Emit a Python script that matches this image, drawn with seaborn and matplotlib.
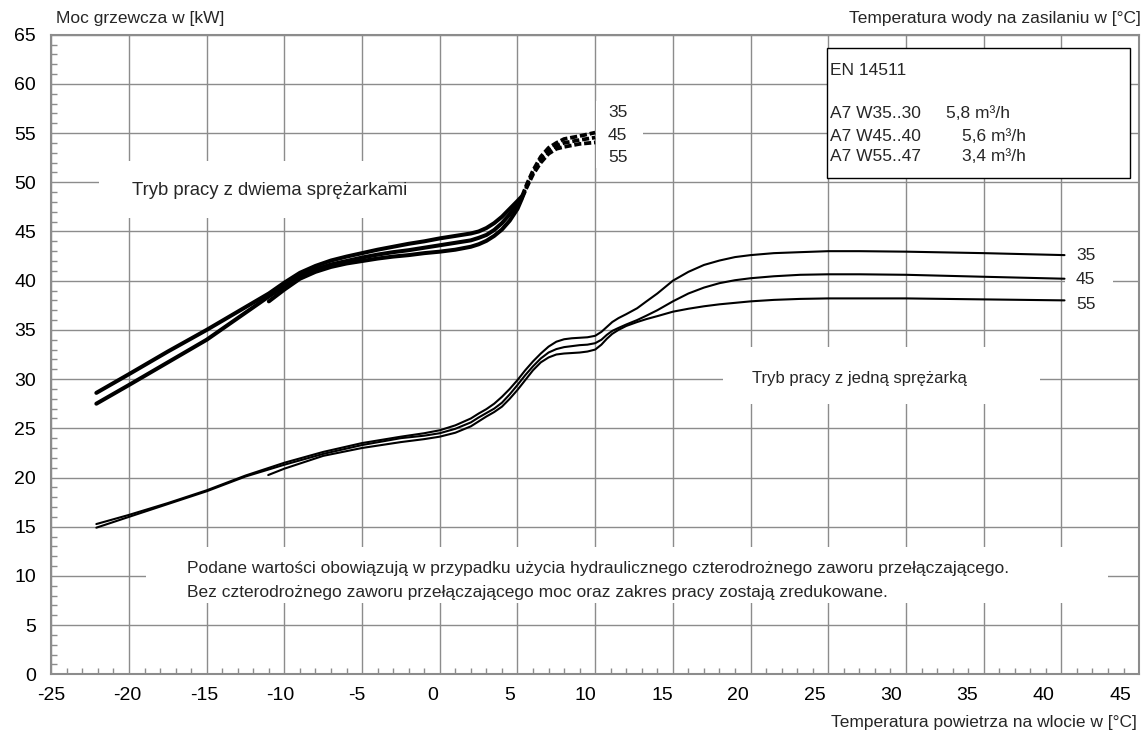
import numpy as np
import pandas as pd
import matplotlib
matplotlib.use("Agg")
import matplotlib.pyplot as plt
import matplotlib.transforms as mtrans
from matplotlib.patches import Rectangle
from matplotlib.ticker import MultipleLocator
import seaborn as sns

sns.set_theme(style="white")
plt.rcParams['font.family'] = ['Liberation Sans', 'DejaVu Sans']

# ---------------- data ----------------
supply_temps = ["35", "45", "55"]

# two compressors – solid part
two_x_35 = [-22.1, -20, -17.5, -15, -13, -11, -10, -9, -8, -7, -6, -5, -4, -3, -2, -1, 0, 1, 2, 2.5, 3, 3.5, 4, 4.5, 5, 5.3]
two_y_35 = [28.6, 30.5, 32.8, 35.0, 36.85, 38.7, 39.8, 40.8, 41.5, 42.05, 42.45, 42.8, 43.15, 43.45, 43.75, 44.0, 44.3, 44.55, 44.8, 45.0, 45.35, 45.85, 46.5, 47.3, 48.1, 48.6]
two_x_45 = [-22.1, -20, -17.5, -15, -13, -11, -10, -9, -8, -7, -6, -5, -4, -3, -2, -1, 0, 1, 2, 2.5, 3, 3.5, 4, 4.5, 5, 5.3]
two_y_45 = [27.5, 29.4, 31.7, 34.0, 36.2, 38.4, 39.45, 40.45, 41.15, 41.65, 42.0, 42.35, 42.65, 42.9, 43.1, 43.35, 43.6, 43.85, 44.1, 44.35, 44.65, 45.15, 45.85, 46.75, 47.8, 48.5]
two_x_55 = [-11, -10, -9, -8, -7, -6, -5, -4, -3, -2, -1, 0, 1, 2, 2.5, 3, 3.5, 4, 4.5, 5, 5.3]
two_y_55 = [37.9, 39.1, 40.2, 40.9, 41.4, 41.75, 42.0, 42.25, 42.45, 42.6, 42.8, 42.95, 43.15, 43.45, 43.7, 44.05, 44.55, 45.2, 46.1, 47.3, 48.4]

# two compressors – dashed part
dash_x = [5.3, 5.6, 6.0, 6.5, 7.0, 7.5, 8.0, 9.0, 10.0]
dash_y_35 = [48.6, 49.8, 51.2, 52.6, 53.5, 54.0, 54.4, 54.7, 55.05]
dash_y_45 = [48.5, 49.6, 51.0, 52.3, 53.2, 53.7, 54.0, 54.3, 54.55]
dash_y_55 = [48.4, 49.5, 50.8, 52.0, 52.9, 53.4, 53.6, 53.9, 54.05]

# one compressor
one_x_35 = [-22.1, -20, -17.5, -15, -12.5, -10, -7.5, -5, -2.5, -1, 0, 1, 2, 2.5, 3, 3.5, 4, 4.5, 5, 5.5, 6, 6.5, 7, 7.5, 8, 8.5, 9, 9.5, 10, 10.4, 10.75, 11.1, 11.5, 12, 12.7, 13.3, 14, 15, 16, 17, 18, 19, 20, 21.5, 23.2, 25, 27, 30, 35, 40.2]
one_y_35 = [15.27, 16.2, 17.4, 18.7, 20.2, 21.5, 22.6, 23.5, 24.15, 24.5, 24.8, 25.3, 26.0, 26.5, 26.95, 27.5, 28.2, 29.0, 29.9, 30.9, 31.8, 32.6, 33.3, 33.8, 34.05, 34.15, 34.2, 34.25, 34.4, 34.8, 35.3, 35.8, 36.2, 36.6, 37.2, 37.9, 38.7, 40.0, 40.9, 41.6, 42.05, 42.4, 42.6, 42.8, 42.9, 43.0, 43.0, 42.95, 42.8, 42.6]
one_x_45 = [-22.1, -20, -17.5, -15, -12.5, -10, -7.5, -5, -2.5, -1, 0, 1, 2, 2.5, 3, 3.5, 4, 4.5, 5, 5.5, 6, 6.5, 7, 7.5, 8, 8.5, 9, 9.5, 10, 10.4, 10.75, 11.1, 11.5, 12, 12.7, 13.3, 14, 15, 16, 17, 18, 19, 20, 21.5, 23.2, 25, 27, 30, 35, 40.2]
one_y_45 = [14.9, 16.0, 17.3, 18.6, 20.1, 21.3, 22.4, 23.3, 24.0, 24.25, 24.5, 24.95, 25.6, 26.1, 26.55, 27.0, 27.6, 28.45, 29.4, 30.4, 31.3, 32.1, 32.7, 33.05, 33.25, 33.35, 33.45, 33.5, 33.65, 34.0, 34.5, 34.9, 35.2, 35.55, 36.0, 36.45, 37.0, 37.9, 38.7, 39.3, 39.75, 40.05, 40.25, 40.45, 40.6, 40.65, 40.65, 40.6, 40.4, 40.2]
one_x_55 = [-11.04, -10, -7.5, -5, -2.5, -1, 0, 1, 2, 2.5, 3, 3.5, 4, 4.5, 5, 5.5, 6, 6.5, 7, 7.5, 8, 8.5, 9, 9.5, 10, 10.4, 10.75, 11.1, 11.5, 12, 12.7, 13.3, 14, 15, 16, 17, 18, 19, 20, 21.5, 23.2, 25, 27, 30, 35, 40.2]
one_y_55 = [20.25, 20.9, 22.2, 23.0, 23.6, 23.9, 24.15, 24.55, 25.2, 25.7, 26.2, 26.65, 27.2, 28.0, 28.9, 29.9, 30.9, 31.7, 32.2, 32.5, 32.6, 32.65, 32.7, 32.8, 33.0, 33.5, 34.1, 34.6, 35.0, 35.4, 35.8, 36.1, 36.4, 36.85, 37.15, 37.4, 37.6, 37.75, 37.9, 38.05, 38.15, 38.2, 38.2, 38.2, 38.1, 38.0]

x_ticks = [-25, -20, -15, -10, -5, 0, 5, 10, 15, 20, 25, 30, 35, 40, 45]
y_ticks = [0, 5, 10, 15, 20, 25, 30, 35, 40, 45, 50, 55, 60, 65]

legend_title = "EN 14511"
legend_rows = ["A7 W35..30", "A7 W45..40", "A7 W55..47"]
legend_flows = ["5,8 m³/h", "5,6 m³/h", "3,4 m³/h"]


def frame(xs, ys, names):
    parts = [pd.DataFrame({"x": x, "y": y, "series": n}) for x, y, n in zip(xs, ys, names)]
    return pd.concat(parts, ignore_index=True)


df_two = frame([two_x_35, two_x_45, two_x_55], [two_y_35, two_y_45, two_y_55], supply_temps)
df_dash = frame([dash_x] * 3, [dash_y_35, dash_y_45, dash_y_55], supply_temps)
df_one = frame([one_x_35, one_x_45, one_x_55], [one_y_35, one_y_45, one_y_55], supply_temps)

# ---------------- figure ----------------
fig = plt.figure(figsize=(11.47, 7.38), dpi=100)
ax = fig.add_axes([0.0447, 0.0863, 0.9484, 0.8667])

GRID = "#8c8c8c"

sns.lineplot(data=df_two, x="x", y="y", units="series", estimator=None, sort=False,
             color="black", lw=2.9, ax=ax, zorder=3, solid_capstyle="round", solid_joinstyle="round")
sns.lineplot(data=df_dash, x="x", y="y", units="series", estimator=None, sort=False,
             color="black", lw=2.7, ax=ax, zorder=3, linestyle=(0, (1.9, 0.75)),
             dash_capstyle="butt")
sns.lineplot(data=df_one, x="x", y="y", units="series", estimator=None, sort=False,
             color="black", lw=1.5, ax=ax, zorder=3, solid_joinstyle="round")

ax.set_xlim(-25, 45)
ax.set_ylim(0, 65)
ax.set_xlabel("")
ax.set_ylabel("")

ax.set_axisbelow(True)
ax.grid(True, which="major", color=GRID, lw=1.0)
ax.xaxis.set_minor_locator(MultipleLocator(1))
ax.yaxis.set_minor_locator(MultipleLocator(1))
ax.set_xticks(x_ticks)
ax.set_yticks(y_ticks)
ax.set_xticklabels([str(v) for v in x_ticks])
ax.set_yticklabels([str(v) for v in y_ticks])
ax.tick_params(axis="both", which="major", length=0, labelsize=14, colors="black")
ax.tick_params(axis="y", which="major", pad=11)
ax.tick_params(axis="x", which="major", pad=9)
ax.tick_params(axis="x", which="minor", bottom=True, top=False, direction="in", length=4, width=1, color=GRID)
ax.tick_params(axis="y", which="minor", left=True, right=False, direction="in", length=4, width=1, color=GRID)
for s in ax.spines.values():
    s.set_color(GRID)
    s.set_linewidth(1.5)

# slight progressive offset of x tick labels as in the reference
for tick, v in zip(ax.xaxis.get_major_ticks(), x_ticks):
    dx = -(v + 25) / 70 * 0.19
    tick.label1.set_transform(tick.label1.get_transform() + mtrans.ScaledTranslation(dx, 0, fig.dpi_scale_trans))

# white boxes hiding the grid behind texts
for (x0, x1, y0, y1) in [(-21.9, -3.3, 46.4, 52.2), (18.2, 38.6, 27.5, 33.3),
                         (-18.9, 43.0, 7.2, 12.9), (40.25, 43.3, 36.3, 44.0),
                         (10.05, 13.1, 51.5, 58.3)]:
    ax.add_patch(Rectangle((x0, y0), x1 - x0, y1 - y0, facecolor="white", edgecolor="none", zorder=1.5))

FS = 12.5
ax.text(-19.8, 49.2, "Tryb pracy z dwiema sprężarkami", fontsize=13.3, va="center", ha="left", zorder=4)
ax.text(20.08, 30.1, "Tryb pracy z jedną sprężarką", fontsize=12, va="center", ha="left", zorder=4)
ax.text(-16.27, 10.8, "Podane wartości obowiązują w przypadku użycia hydraulicznego czterodrożnego zaworu przełączającego.",
        fontsize=FS, va="center", ha="left", zorder=4)
ax.text(-16.27, 8.35, "Bez czterodrożnego zaworu przełączającego moc oraz zakres pracy zostają zredukowane.",
        fontsize=FS, va="center", ha="left", zorder=4)

for lab, yy in zip(supply_temps, [42.6, 40.1, 37.55]):
    ax.text(40.94, yy, lab, fontsize=FS, va="center", ha="left", zorder=4)
for lab, yy in zip(supply_temps, [57.05, 54.8, 52.55]):
    ax.text(10.83, yy, lab, fontsize=FS, va="center", ha="left", zorder=4)

# legend box
ax.add_patch(Rectangle((24.93, 50.4), 44.4 - 24.93, 63.68 - 50.4, facecolor="white",
                       edgecolor="black", lw=1.0, zorder=5))
ax.text(25.1, 61.4, legend_title, fontsize=FS, va="center", ha="left", zorder=6)
for row, flow, yy, xf in zip(legend_rows, legend_flows, [57.0, 54.7, 52.6], [32.6, 33.6, 33.6]):
    ax.text(25.1, yy, row, fontsize=FS, va="center", ha="left", zorder=6)
    ax.text(xf, yy, flow, fontsize=FS, va="center", ha="left", zorder=6)

# axis titles
fig.text(56 / 1147, 1 - 18 / 738, "Moc grzewcza w [kW]", fontsize=FS, ha="left", va="center")
fig.text(1141 / 1147, 1 - 18 / 738, "Temperatura wody na zasilaniu w [°C]", fontsize=FS, ha="right", va="center")
fig.text(1137 / 1147, 1 - 722 / 738, "Temperatura powietrza na wlocie w [°C]", fontsize=FS, ha="right", va="center")

fig.savefig("out.png", dpi=100)
